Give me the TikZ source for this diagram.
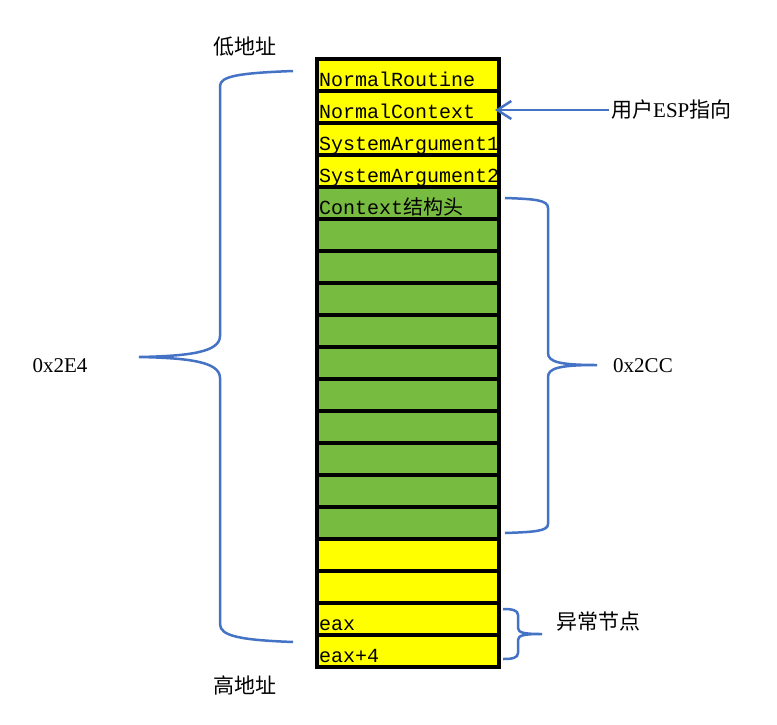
\documentclass[tikz,border=0pt]{standalone}
\usepackage{fontspec}
\setmainfont{Liberation Serif}
\setmonofont{Liberation Mono}
\newfontfamily\cjk{Noto Sans CJK SC}
\usetikzlibrary{arrows.meta}
\definecolor{bracecol}{HTML}{4472C4}
\definecolor{cellgreen}{HTML}{77BC41}
\definecolor{cellyellow}{HTML}{FFFF00}
\begin{document}
\begin{tikzpicture}[x=1pt,y=-1pt,
  cell/.style={draw=black,line width=3.2pt,minimum width=182pt,minimum height=32pt,inner sep=0pt,outer sep=0pt},
  celltext/.style={anchor=base west,inner sep=0pt,font=\fontsize{20}{20}\ttfamily},
  bracepath/.style={draw=bracecol,line width=2.5pt},
  lab/.style={inner sep=2pt,font=\fontsize{21}{21}\selectfont},
  cjklab/.style={inner sep=2pt,font=\cjk\fontsize{21}{21}\selectfont}]
\useasboundingbox (0,0) rectangle (777,724);
\fill[white] (0,0) rectangle (777,724);
% cells
\foreach \i/\c in {0/cellyellow,1/cellyellow,2/cellyellow,3/cellyellow,
  4/cellgreen,5/cellgreen,6/cellgreen,7/cellgreen,8/cellgreen,9/cellgreen,
  10/cellgreen,11/cellgreen,12/cellgreen,13/cellgreen,14/cellgreen,
  15/cellyellow,16/cellyellow,17/cellyellow,18/cellyellow}{
  \node[cell,fill=\c] (r\i) at (408,75+32*\i) {};
}
% cell texts
\node[celltext] (t0) at (319,86) {NormalRoutine};
\node[celltext] (t1) at (319,118) {NormalContext};
\node[celltext] (t2) at (319,150) {SystemArgument1};
\node[celltext] (t3) at (319,182) {SystemArgument2};
\node[celltext] (t4) at (319,214) {Context{\cjk 结构头}};
\node[celltext] (t17) at (319,630) {eax};
\node[celltext] (t18) at (319,662) {eax+4};
% labels
\node[cjklab] (low) at (245,47) {低地址};
\node[cjklab] (high) at (245,685) {高地址};
\node[lab] (l2e4) at (60,366) {0x2E4};
\node[lab] (l2cc) at (643,366) {0x2CC};
\node[cjklab,anchor=west] (esp) at (609,110) {用户{\rmfamily ESP}指向};
\node[cjklab] (exc) at (598,622) {异常节点};
% left brace
\coordinate (lbT) at (293,71);
\coordinate (lbM) at (139,357);
\coordinate (lbB) at (293,642);
\draw[bracepath] (lbT) .. controls (240,73) and (220,76) .. (220,86) -- (220,336)
  .. controls (220,352) and (190,356) .. (lbM)
  .. controls (190,358) and (220,362) .. (220,378) -- (220,624)
  .. controls (220,636) and (240,640) .. (lbB);
% right brace 0x2CC
\coordinate (rbT) at (505,198);
\coordinate (rbM) at (597,365);
\coordinate (rbB) at (505,533);
\draw[bracepath] (rbT) .. controls (535,199) and (548,200) .. (548,208) -- (548,353)
  .. controls (548,362) and (560,365) .. (rbM)
  .. controls (560,365) and (548,368) .. (548,377) -- (548,524)
  .. controls (548,531) and (535,532) .. (rbB);
% small brace
\coordinate (sbT) at (503,609);
\coordinate (sbM) at (542,634);
\coordinate (sbB) at (503,659);
\draw[bracepath] (sbT) .. controls (512,609) and (518,610) .. (518,615) -- (518,628)
  .. controls (518,633) and (525,634) .. (sbM)
  .. controls (525,634) and (518,635) .. (518,640) -- (518,653)
  .. controls (518,658) and (512,659) .. (sbB);
% ESP arrow
\draw[bracecol,line width=2.5pt,-{Straight Barb[length=14pt,width=18pt,line width=2.5pt]},shorten >=-4pt]
  (esp.west) -- (r1.east |- esp.west);
\end{tikzpicture}
\end{document}
